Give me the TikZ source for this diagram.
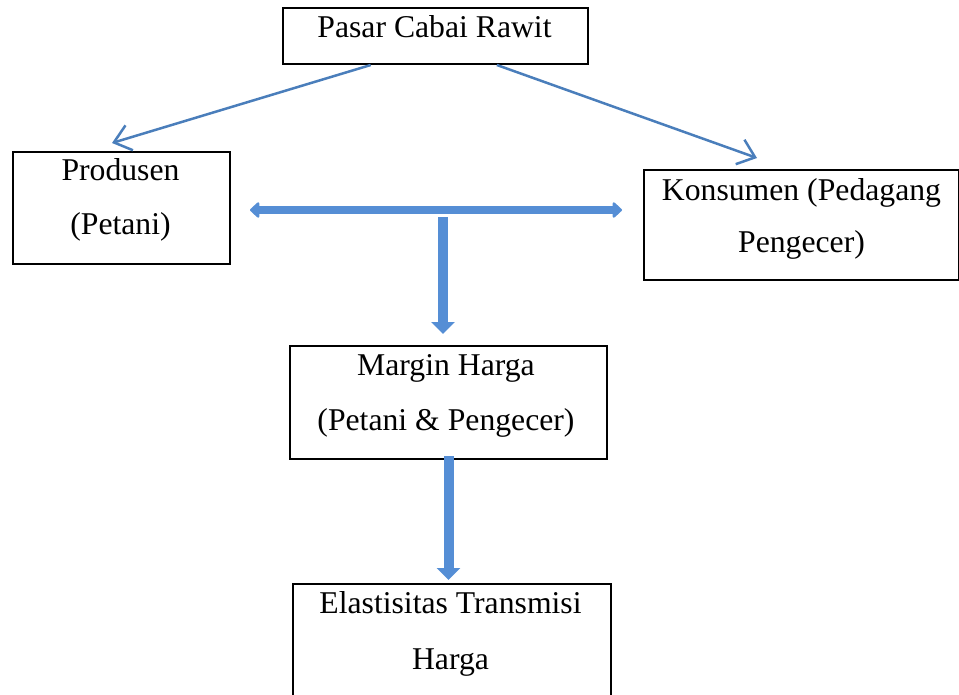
\documentclass[tikz,border=0pt]{standalone}
\usepackage{fontspec}
\setmainfont{Liberation Serif}
\usetikzlibrary{arrows.meta,calc}
\definecolor{thinblue}{HTML}{4A7EBB}
\definecolor{thickblue}{HTML}{558ED5}
\begin{document}
\begin{tikzpicture}[x=1pt,y=-1pt,
  box/.style={draw=black,line width=2pt,rectangle,inner sep=0pt,anchor=north west},
  txt/.style={anchor=base,inner sep=0pt,font=\fontsize{31.7}{38}\selectfont},
  thinarrow/.style={draw=thinblue,line width=2.5pt,-{Straight Barb[length=16pt,width=26pt]}},
  bigarrow/.style={draw=thickblue,line width=10pt,-{Triangle[length=12pt,width=23pt]}},
  dblarrow/.style={draw=thickblue,line width=8pt,{Triangle[length=10pt,width=18pt,round]}-{Triangle[length=10pt,width=18pt,round]}}]
\useasboundingbox (0,0) rectangle (959,694);
% boxes
\node[box,minimum width=305pt,minimum height=56pt] (pasar) at (282,7) {};
\node[box,minimum width=217pt,minimum height=112pt] (prod) at (12,151) {};
\node[box,minimum width=315pt,minimum height=110pt] (kons) at (643,169) {};
\node[box,minimum width=317pt,minimum height=113pt] (margin) at (289,345) {};
\node[box,minimum width=318pt,minimum height=125pt] (elast) at (292,583) {};
% texts
\node[txt] (pasarT) at (434.5,37) {Pasar Cabai Rawit};
\node[txt] (prodT1) at (120.5,180) {Produsen};
\node[txt] (prodT2) at (120.5,234) {(Petani)};
\node[txt] (konsT1) at (801.5,200) {Konsumen (Pedagang};
\node[txt] (konsT2) at (801.5,252) {Pengecer)};
\node[txt] (marginT1) at (446,375) {Margin Harga};
\node[txt] (marginT2) at (446,430) {(Petani \& Pengecer)};
\node[txt] (elastT1) at (450.5,613) {Elastisitas Transmisi};
\node[txt] (elastT2) at (450.5,669) {Harga};
% free ends
\coordinate (tipL) at (112,143);
\coordinate (tipR) at (757,158);
\coordinate (dblL) at (250,210);
\coordinate (dblR) at (622,210);
\coordinate (vStart) at (443,217);
\coordinate (vEnd) at (443,334);
\coordinate (v2Start) at ($(margin.south)+(0,-4)$);
\coordinate (v2End) at ($(margin.south)+(0,120)$);
% connectors
\draw[thinarrow] ($(pasar.south west)!0.289!(pasar.south east)$) -- (tipL);
\draw[thinarrow] ($(pasar.south west)!0.70!(pasar.south east)$) -- (tipR);
\draw[dblarrow] (dblL) -- (dblR);
\draw[bigarrow] (vStart) -- (vEnd);
\draw[bigarrow] (v2Start) -- (v2End);
\end{tikzpicture}
\end{document}
